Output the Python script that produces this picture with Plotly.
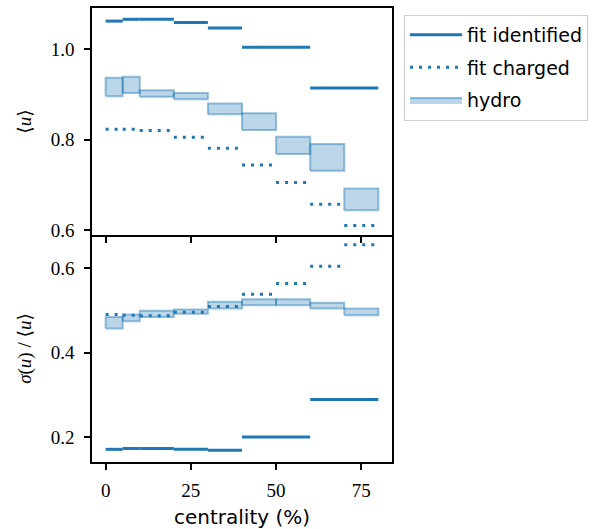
import plotly.graph_objects as go

# ---- data ----
ident_edges = [0, 5, 10, 20, 30, 40, 60, 80]
ident_mean = [1.062, 1.066, 1.066, 1.059, 1.047, 1.004, 0.914]
ident_ratio = [0.171, 0.173, 0.173, 0.171, 0.169, 0.200, 0.289]

charged_edges = [0, 5, 10, 20, 30, 40, 50, 60, 70, 80]
charged_mean = [0.823, 0.823, 0.820, 0.805, 0.781, 0.744, 0.705, 0.657, 0.610]
charged_ratio = [0.490, 0.488, 0.487, 0.495, 0.509, 0.538, 0.563, 0.604, 0.655]

hydro_edges = [0, 5, 10, 20, 30, 40, 50, 60, 70, 80]
hydro_mean_lo = [0.896, 0.903, 0.895, 0.889, 0.856, 0.821, 0.768, 0.731, 0.644]
hydro_mean_hi = [0.937, 0.939, 0.909, 0.903, 0.880, 0.858, 0.806, 0.790, 0.692]
hydro_ratio_lo = [0.457, 0.474, 0.484, 0.492, 0.504, 0.512, 0.512, 0.504, 0.488]
hydro_ratio_hi = [0.484, 0.490, 0.499, 0.502, 0.520, 0.526, 0.526, 0.518, 0.504]

x_ticks = [0, 25, 50, 75]
top_ticks = [0.6, 0.8, 1.0]
bot_ticks = [0.2, 0.4, 0.6]

BLUE = "#1f77b4"
FILL = "rgba(31,119,180,0.3)"
EDGE = "rgba(31,119,180,0.45)"
SERIF = "'Liberation Serif', 'DejaVu Serif', serif"
SANS = "'DejaVu Sans', sans-serif"


def steps(edges, vals):
    xs, ys = [], []
    for i, v in enumerate(vals):
        xs += [edges[i], edges[i + 1], None]
        ys += [v, v, None]
    return xs, ys


def boxes(edges, lo, hi):
    xs, ys = [], []
    for i in range(len(lo)):
        a, b = edges[i], edges[i + 1]
        xs += [a, b, b, a, a, None]
        ys += [lo[i], lo[i], hi[i], hi[i], lo[i], None]
    return xs, ys


fig = go.Figure()

for panel, (idv, chv, hlo, hhi) in enumerate([
        (ident_mean, charged_mean, hydro_mean_lo, hydro_mean_hi),
        (ident_ratio, charged_ratio, hydro_ratio_lo, hydro_ratio_hi)]):
    xa = "x2" if panel == 0 else "x"
    ya = "y2" if panel == 0 else "y"
    show = panel == 0
    x, y = steps(ident_edges, idv)
    fig.add_trace(go.Scatter(x=x, y=y, mode="lines", name="fit identified",
                             line=dict(color=BLUE, width=3), xaxis=xa, yaxis=ya,
                             showlegend=show, legendgroup="a", legendrank=1))
    x, y = steps(charged_edges, chv)
    fig.add_trace(go.Scatter(x=x, y=y, mode="lines", name="fit charged",
                             line=dict(color=BLUE, width=3, dash="3px,6px"),
                             xaxis=xa, yaxis=ya, showlegend=show,
                             legendgroup="b", legendrank=2))
    x, y = boxes(hydro_edges, hlo, hhi)
    fig.add_trace(go.Scatter(x=x, y=y, mode="lines", name="hydro", fill="toself",
                             fillcolor=FILL, line=dict(color=EDGE, width=2),
                             xaxis=xa, yaxis=ya, showlegend=show,
                             legendgroup="c", legendrank=3))

axis_common = dict(showline=True, linecolor="black", linewidth=1.6,
                   ticks="outside", ticklen=6, tickwidth=1.5, tickcolor="black",
                   showgrid=False, zeroline=False, automargin=False,
                   tickfont=dict(family=SERIF, size=19, color="black"))

fig.update_layout(
    width=606, height=529,
    margin=dict(l=92, r=214, t=8, b=67),
    plot_bgcolor="white", paper_bgcolor="white",
    xaxis=dict(axis_common, domain=[0, 1], range=[-4, 84], anchor="y", mirror=False,
               tickvals=x_ticks, ticktext=[str(t) for t in x_ticks], ticklabelstandoff=4,
               title=dict(text="centrality (%)", font=dict(family=SANS, size=20, color="black"),
                          standoff=12)),
    yaxis=dict(axis_common, domain=[0, 0.5], range=[0.141, 0.678], anchor="x", mirror=True,
               tickvals=bot_ticks, ticktext=[f"{t:.1f}" for t in bot_ticks], ticklabelstandoff=6,
               title=dict(text="<i>σ</i>(<i>u</i>) / ⟨<i>u</i>⟩",
                          font=dict(family=SERIF, size=19, color="black"), standoff=14)),
    xaxis2=dict(axis_common, domain=[0, 1], range=[-4, 84], anchor="y2", mirror=True,
                tickvals=x_ticks, showticklabels=False),
    yaxis2=dict(axis_common, domain=[0.5, 1], range=[0.589, 1.091], anchor="x2", mirror=True,
                tickvals=top_ticks, ticktext=[f"{t:.1f}" for t in top_ticks], ticklabelstandoff=6,
                title=dict(text="⟨<i>u</i>⟩",
                           font=dict(family=SERIF, size=19, color="black"), standoff=14)),
    legend=dict(x=1.04, y=0.985, xanchor="left", yanchor="top",
                bordercolor="#cccccc", borderwidth=1, bgcolor="white",
                font=dict(family=SANS, size=19, color="black"),
                itemwidth=52, traceorder="grouped", tracegroupgap=5),
)

fig.write_html("out.html", config={"displayModeBar": False},
               post_script="document.body.style.margin='0';")
